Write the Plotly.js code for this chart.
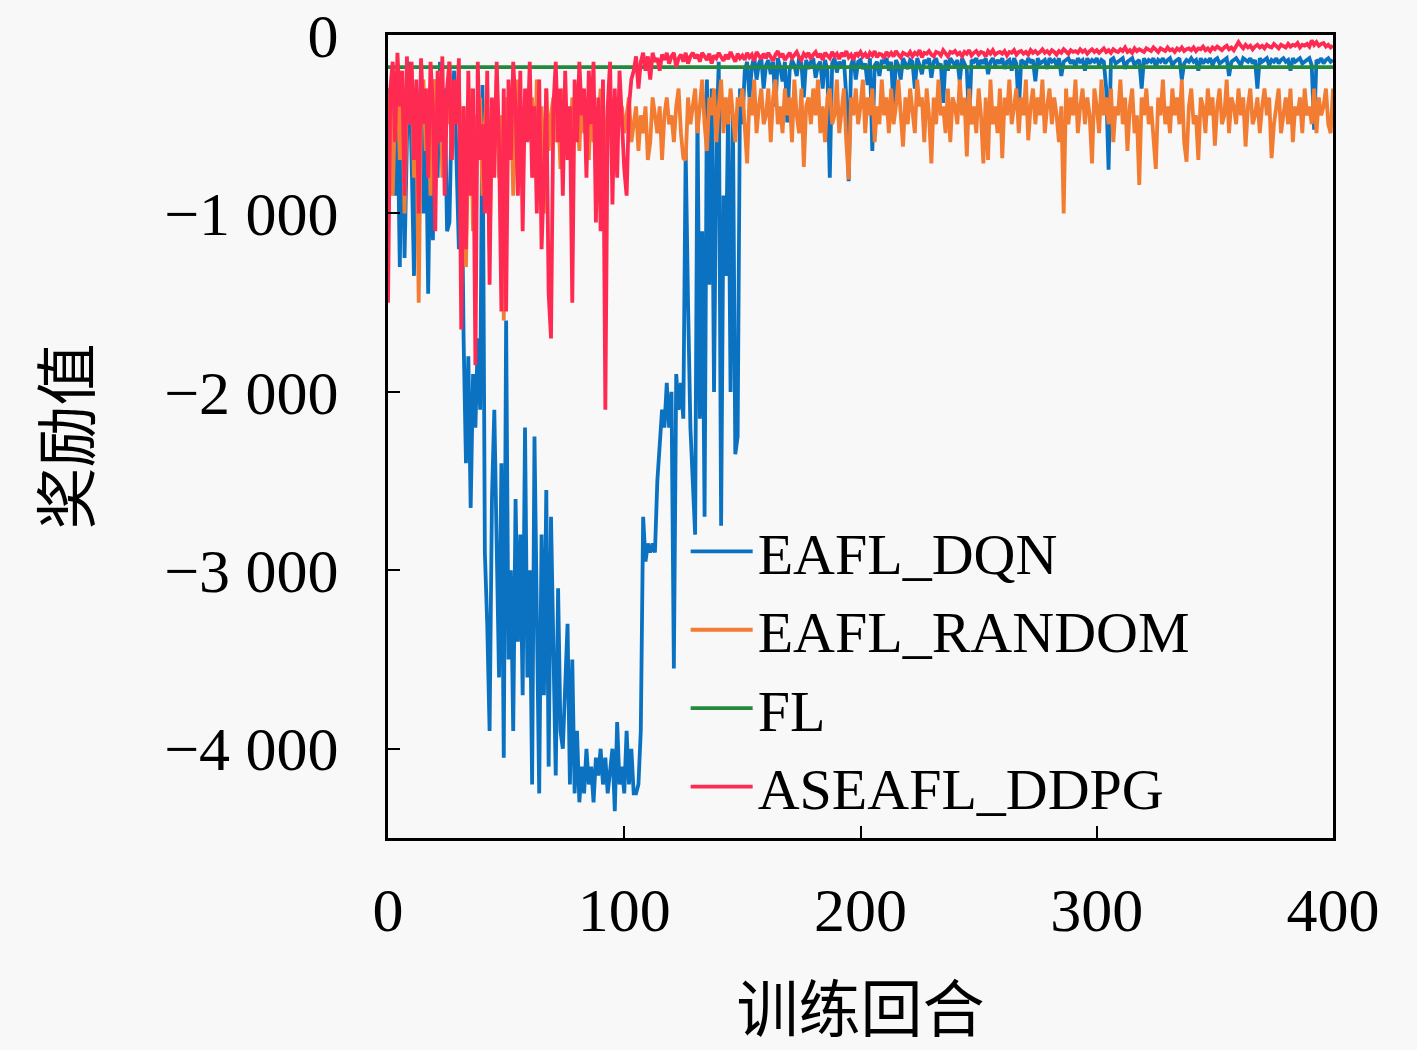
<!DOCTYPE html>
<html>
<head>
<meta charset="utf-8">
<script src="https://cdn.plot.ly/plotly-3.0.1.min.js"></script>
<style>html,body{margin:0;padding:0;background:#f8f8f8;}#chart{width:1417px;height:1050px;}</style>
</head>
<body>
<div id="chart"></div>
<script>
// Series names
const seriesNames = ["EAFL_DQN", "EAFL_RANDOM", "FL", "ASEAFL_DDPG"];

// Axis ticks
const xTickVals = [0, 100, 200, 300, 400];
const xTickText = ["0", "100", "200", "300", "400"];
const yTickVals = [0, -1000, -2000, -3000, -4000];
const yTickText = ["0", "\u22121 000", "\u22122 000", "\u22123 000", "\u22124 000"];

// EAFL_DQN reward per episode (0..400)
const dqn = [
-300,-650,-200,-900,-400,-1300,-250,-1250,-600,-150,
-700,-1350,-300,-900,-150,-1000,-400,-1450,-500,-1150,
-250,-800,-150,-600,-300,-1100,-1050,-400,-200,-700,
-1200,-500,-1700,-2400,-1800,-2650,-1900,-2200,-1700,-2100,
-280,-2900,-3300,-3900,-2600,-2100,-3000,-3600,-2400,-4050,
-1600,-3500,-3000,-3900,-2600,-3400,-2800,-3700,-2200,-3600,
-3000,-4200,-2250,-3400,-4250,-2800,-3700,-2550,-4100,-2700,
-3600,-4150,-3100,-3900,-4000,-3700,-3300,-4200,-3500,-4250,
-3900,-4300,-4100,-4250,-4000,-4200,-4100,-4300,-4050,-4150,
-4000,-4200,-4050,-4250,-4100,-4000,-4350,-3850,-4200,-4100,
-4250,-3900,-4200,-4000,-4250,-4250,-4200,-3900,-2700,-2950,
-2850,-2900,-2850,-2900,-2500,-2300,-2100,-2200,-1950,-2200,
-2000,-3550,-1900,-2100,-1950,-2150,-650,-1500,-2200,-2500,
-2800,-400,-2150,-1100,-2700,-250,-1400,-300,-2000,-600,
-150,-2750,-900,-1350,-400,-2000,-450,-2350,-2250,-300,
-500,-200,-150,-350,-180,-120,-250,-160,-130,-300,
-170,-140,-220,-150,-400,-130,-180,-260,-150,-490,
-200,-140,-170,-230,-130,-160,-350,-140,-190,-150,
-130,-240,-170,-150,-300,-140,-200,-800,-160,-130,
-210,-150,-180,-140,-350,-820,-170,-130,-250,-150,
-140,-190,-160,-280,-130,-650,-170,-150,-230,-140,
-160,-130,-200,-150,-420,-140,-170,-250,-130,-160,
-190,-140,-150,-300,-130,-170,-220,-140,-160,-130,
-240,-150,-130,-180,-160,-380,-140,-200,-130,-150,
-170,-140,-260,-130,-160,-190,-500,-140,-150,-130,
-180,-140,-160,-130,-220,-150,-130,-170,-140,-160,
-130,-190,-150,-140,-200,-130,-160,-440,-140,-150,
-170,-130,-150,-140,-260,-130,-160,-150,-140,-190,
-130,-150,-140,-170,-130,-230,-150,-140,-130,-160,
-140,-180,-130,-150,-140,-200,-130,-160,-140,-150,
-130,-170,-140,-150,-300,-755,-140,-130,-160,-150,
-140,-130,-190,-150,-140,-130,-170,-150,-140,-300,
-130,-160,-140,-150,-130,-180,-140,-150,-130,-160,
-140,-130,-170,-150,-140,-130,-250,-160,-140,-150,
-130,-150,-140,-200,-130,-160,-140,-150,-130,-170,
-140,-130,-160,-150,-140,-130,-230,-150,-140,-130,
-150,-170,-130,-140,-150,-130,-160,-140,-300,-130,
-150,-140,-130,-170,-140,-150,-130,-160,-140,-130,
-150,-140,-200,-130,-150,-140,-130,-160,-150,-140,
-130,-170,-530,-140,-150,-130,-160,-140,-130,-150,-140
];

// EAFL_RANDOM reward per episode (0..400)
const random = [
-600,-300,-900,-400,-250,-700,-350,-1000,-300,-500,
-200,-800,-450,-1500,-350,-250,-650,-300,-900,-400,
-250,-600,-200,-800,-350,-500,-150,-700,-300,-450,
-250,-900,-400,-1300,-600,-300,-1100,-450,-700,-350,
-900,-500,-300,-1200,-400,-650,-250,-800,-450,-1600,
-350,-600,-300,-900,-450,-250,-700,-400,-550,-300,
-500,-350,-800,-250,-600,-400,-1000,-300,-650,-450,
-350,-600,-400,-750,-300,-550,-450,-700,-350,-500,
-400,-650,-300,-550,-450,-700,-350,-600,-400,-500,
-300,-450,-650,-400,-550,-350,-600,-450,-500,-400,
-550,-450,-350,-600,-500,-400,-650,-450,-550,-400,
-700,-600,-350,-450,-550,-400,-700,-450,-350,-500,
-450,-600,-400,-300,-550,-690,-700,-350,-500,-400,
-300,-550,-400,-250,-500,-650,-350,-450,-300,-600,
-400,-250,-550,-350,-500,-300,-450,-600,-350,-400,
-300,-500,-720,-350,-450,-250,-550,-400,-300,-500,
-450,-300,-600,-350,-250,-500,-400,-550,-300,-450,
-350,-600,-250,-450,-550,-300,-740,-400,-350,-500,
-300,-450,-250,-550,-400,-600,-350,-300,-500,-450,
-250,-550,-400,-300,-600,-810,-350,-450,-300,-500,
-400,-250,-550,-350,-450,-300,-600,-400,-500,-250,
-450,-350,-550,-300,-500,-400,-250,-450,-625,-350,
-500,-300,-450,-550,-250,-400,-350,-600,-300,-450,
-720,-350,-500,-250,-450,-400,-550,-300,-600,-350,
-400,-500,-250,-450,-350,-680,-300,-500,-400,-550,
-300,-450,-720,-350,-700,-250,-500,-400,-550,-300,
-690,-350,-450,-250,-500,-400,-300,-550,-350,-450,
-250,-590,-400,-300,-500,-350,-450,-250,-550,-400,
-300,-500,-350,-450,-600,-400,-1000,-300,-500,-350,
-450,-250,-550,-400,-300,-500,-350,-450,-720,-300,
-400,-550,-250,-450,-350,-500,-300,-600,-400,-450,
-250,-500,-350,-650,-400,-300,-550,-450,-840,-350,
-450,-300,-500,-400,-550,-750,-350,-450,-250,-500,
-400,-550,-300,-450,-350,-500,-250,-600,-710,-400,
-300,-500,-450,-700,-350,-400,-550,-300,-450,-350,
-620,-400,-300,-500,-450,-250,-550,-350,-400,-500,
-300,-450,-350,-625,-400,-300,-500,-450,-350,-550,
-400,-300,-450,-350,-690,-500,-400,-300,-550,-450,
-350,-500,-300,-600,-400,-450,-350,-550,-300,-450,
-400,-500,-300,-550,-350,-450,-400,-300,-500,-550,-300
];

// FL reward (constant level)
const flEpisodes = [0, 400];
const fl = [-180, -180];

// ASEAFL_DDPG reward per episode (0..400)
const ddpg = [
-1500,-300,-150,-600,-100,-400,-200,-900,-120,-500,
-150,-700,-250,-1000,-130,-500,-300,-800,-150,-400,
-1100,-200,-600,-120,-900,-300,-150,-700,-250,-500,
-130,-1650,-400,-1200,-200,-900,-300,-1850,-150,-700,
-500,-1000,-200,-1400,-350,-800,-150,-600,-1550,-300,
-1550,-250,-700,-150,-400,-900,-200,-1100,-300,-600,
-150,-800,-400,-1000,-250,-1200,-800,-300,-1450,-1700,
-400,-150,-600,-300,-900,-200,-700,-400,-1500,-250,
-600,-150,-450,-300,-800,-200,-500,-150,-1050,-350,
-1100,-250,-2100,-400,-150,-950,-300,-800,-200,-500,
-750,-900,-400,-250,-200,-120,-300,-150,-100,-200,
-120,-250,-100,-150,-130,-200,-110,-140,-100,-160,
-120,-100,-180,-130,-110,-150,-100,-160,-120,-100,
-130,-110,-150,-100,-120,-140,-105,-160,-115,-130,
-100,-125,-145,-110,-135,-95,-120,-150,-105,-130,
-115,-140,-100,-125,-110,-145,-95,-120,-135,-105,
-130,-100,-120,-145,-110,-90,-125,-105,-140,-115,
-100,-130,-110,-95,-125,-140,-105,-120,-100,-135,
-110,-95,-125,-105,-140,-100,-115,-130,-95,-120,
-105,-135,-100,-120,-90,-125,-110,-140,-100,-115,
-95,-120,-105,-130,-100,-115,-90,-125,-105,-110,
-130,-95,-115,-100,-120,-90,-110,-125,-100,-105,
-115,-95,-120,-100,-110,-85,-125,-100,-105,-90,
-110,-120,-95,-100,-115,-85,-105,-120,-95,-100,
-90,-110,-100,-120,-95,-105,-85,-115,-100,-90,
-110,-95,-100,-120,-90,-105,-85,-110,-100,-95,
-105,-90,-115,-95,-100,-85,-110,-95,-90,-105,
-95,-110,-85,-100,-90,-105,-95,-80,-100,-90,
-105,-85,-95,-110,-90,-100,-80,-95,-105,-85,
-95,-90,-100,-80,-95,-85,-105,-90,-80,-95,
-85,-100,-90,-75,-95,-85,-100,-80,-90,-95,
-80,-90,-70,-95,-85,-100,-75,-90,-80,-85,
-95,-75,-85,-90,-70,-85,-95,-75,-80,-90,
-70,-85,-80,-95,-75,-85,-70,-90,-80,-75,
-85,-70,-90,-75,-80,-65,-85,-75,-90,-70,
-80,-65,-75,-85,-70,-60,-80,-70,-85,-65,
-40,-60,-75,-55,-70,-60,-80,-65,-55,-70,
-60,-75,-55,-65,-70,-50,-65,-75,-55,-60,
-70,-50,-65,-55,-60,-45,-70,-55,-60,-50,
-65,-30,-55,-40,-60,-50,-45,-65,-55,-70,-60
];

const colors = ["#0a72c0", "#f27c32", "#23893c", "#ff2a52"];
const idx = arr => arr.map((_, i) => i);
const lw = 3.8;

const traces = [
  {x: idx(dqn), y: dqn, name: seriesNames[0], type: "scatter", mode: "lines", line: {color: colors[0], width: lw}},
  {x: idx(random), y: random, name: seriesNames[1], type: "scatter", mode: "lines", line: {color: colors[1], width: lw}},
  {x: flEpisodes, y: fl, name: seriesNames[2], type: "scatter", mode: "lines", line: {color: colors[2], width: lw}},
  {x: idx(ddpg), y: ddpg, name: seriesNames[3], type: "scatter", mode: "lines", line: {color: colors[3], width: lw}}
];

const tickFont = {family: "Liberation Serif, Times New Roman, serif", size: 62, color: "#000"};
const layout = {
  width: 1417, height: 1050,
  margin: {l: 388, r: 84, t: 35, b: 212},
  paper_bgcolor: "#f8f8f8",
  plot_bgcolor: "#f8f8f8",
  showlegend: true,
  legend: {
    x: 0.315, y: 0.412, xanchor: "left", yanchor: "top",
    bgcolor: "rgba(0,0,0,0)",
    font: {family: "Liberation Serif, Times New Roman, serif", size: 58, color: "#000"},
    itemwidth: 62,
    tracegroupgap: 0
  },
  xaxis: {
    range: [0, 400],
    tickvals: xTickVals, ticktext: xTickText,
    ticks: "inside", ticklen: 12, tickwidth: 2, tickcolor: "#000",
    showline: true, linewidth: 3, linecolor: "#000", mirror: true,
    showgrid: false, zeroline: false,
    tickfont: tickFont,
    ticklabelstandoff: 16,
    title: {text: "训练回合", font: {family: "Noto Sans CJK SC", size: 62, color: "#000"}, standoff: 52}
  },
  yaxis: {
    range: [-4500, 0],
    tickvals: yTickVals, ticktext: yTickText,
    ticks: "inside", ticklen: 12, tickwidth: 2, tickcolor: "#000",
    showline: true, linewidth: 3, linecolor: "#000", mirror: true,
    showgrid: false, zeroline: false,
    tickfont: tickFont,
    ticklabelstandoff: 34,
    title: {text: "奖励值", font: {family: "Noto Sans CJK SC", size: 62, color: "#000"}, standoff: 54}
  }
};

Plotly.newPlot("chart", traces, layout, {displayModeBar: false, staticPlot: true});
</script>
</body>
</html>
